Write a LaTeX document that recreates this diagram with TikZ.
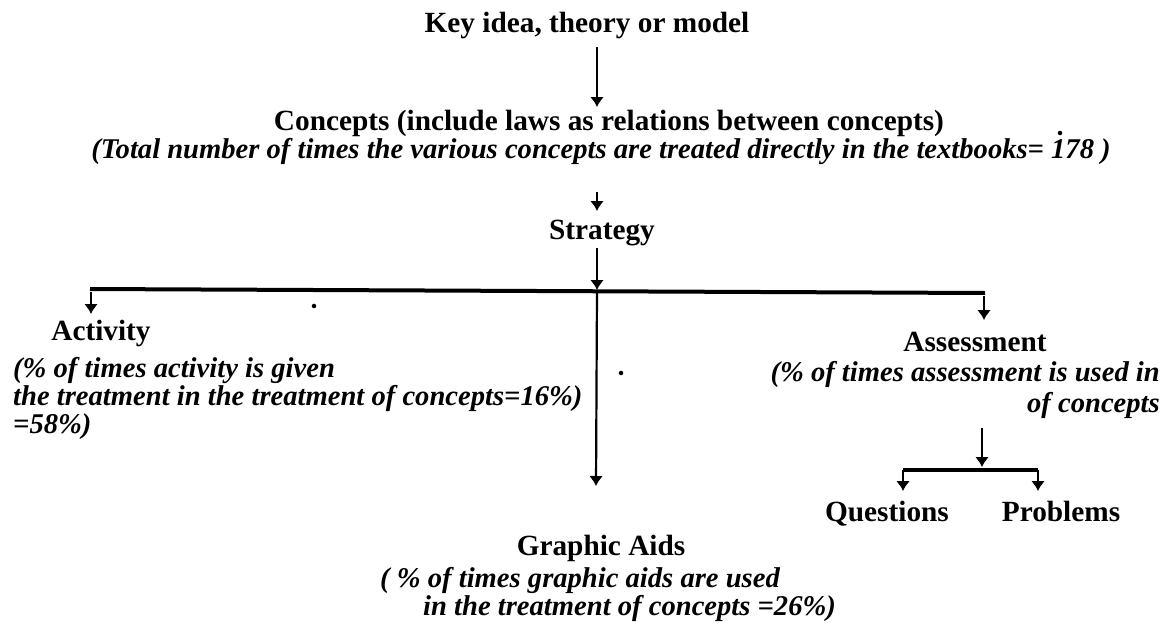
\documentclass[tikz,border=0pt]{standalone}
\usepackage{fontspec}
\setmainfont{Liberation Serif}
\usetikzlibrary{arrows.meta}
\tikzset{
  hd/.style={font=\fontsize{29.3}{32}\selectfont\bfseries, inner sep=0pt},
  it/.style={font=\fontsize{28.6}{28}\selectfont\bfseries\itshape, inner sep=0pt},
  arr/.style={line width=2.2pt, -{Latex[length=10pt,width=14pt]}},
  ln/.style={line width=4pt},
  speck/.style={fill=black, circle, inner sep=1.6pt}
}
\begin{document}
\begin{tikzpicture}[x=1pt,y=-1pt]
\useasboundingbox (0,0) rectangle (1164,629);
\node[hd] (key) at (587,25) {Key idea, theory or model};
\node[hd] (con) at (609,123) {Concepts (include laws as relations between concepts)};
\node[it] (tot) at (601,152) {(Total number of times the various concepts are treated directly in the textbooks= 178 )};
\node[hd] (str) at (602,233) {Strategy};
\coordinate (L) at (90,289);
\coordinate (M) at (597,290);
\coordinate (R) at (985,293);
\coordinate (kb) at (597,47);
\coordinate (ct) at (597,107);
\coordinate (tb) at (597,192);
\coordinate (st) at (597,211);
\coordinate (sb) at (597,248);
\draw[arr] (kb) -- (ct);
\draw[arr] (tb) -- (st);
\draw[arr] (sb) -- (M);
\draw[ln] (L) -- (R);
% activity
\node[hd] (act) at (101,333) {Activity};
\node[it, anchor=base west] (act1) at (13,377) {(\% of times activity is given};
\node[it, anchor=base west] (act2) at (13,405) {the treatment in the treatment of concepts=16\%)};
\node[it, anchor=base west] (act3) at (13,433) {=58\%)};
\coordinate (ls) at (91,292);
\coordinate (at) at (91,314);
\draw[arr] (ls) -- (at);
% assessment
\node[hd] (ass) at (975,342) {Assessment};
\node[it, anchor=base east] (ass1) at (1160,381) {(\% of times assessment is used in};
\node[it, anchor=base east] (ass2) at (1160,412) {of concepts};
\coordinate (rs) at (984,296);
\coordinate (rt) at (984,320);
\draw[arr] (rs) -- (rt);
\coordinate (aq) at (982,428);
\coordinate (B) at (982,467);
\draw[arr] (aq) -- (B);
\coordinate (QL) at (903,470);
\coordinate (QR) at (1038,470);
\draw[ln] (QL) -- (QR);
\node[hd, anchor=base] (q) at (887,521) {Questions};
\node[hd, anchor=base] (p) at (1061,521) {Problems};
\coordinate (qt) at (903,491);
\coordinate (pt) at (1038,491);
\draw[arr] (QL) -- (qt);
\draw[arr] (QR) -- (pt);
% graphic aids
\coordinate (gt) at (596,486);
\draw[arr] (M) -- (gt);
\node[hd] (ga) at (601,548) {Graphic Aids};
\node[it, anchor=base west] (ga1) at (380,587) {( \% of times graphic aids are used};
\node[it, anchor=base west] (ga2) at (423,615) {in the treatment of concepts =26\%)};
% specks
\node[speck] (s1) at (314,306) {};
\node[speck] (s2) at (621,373) {};
\node[speck] (s3) at (1060,133) {};
\end{tikzpicture}
\end{document}
